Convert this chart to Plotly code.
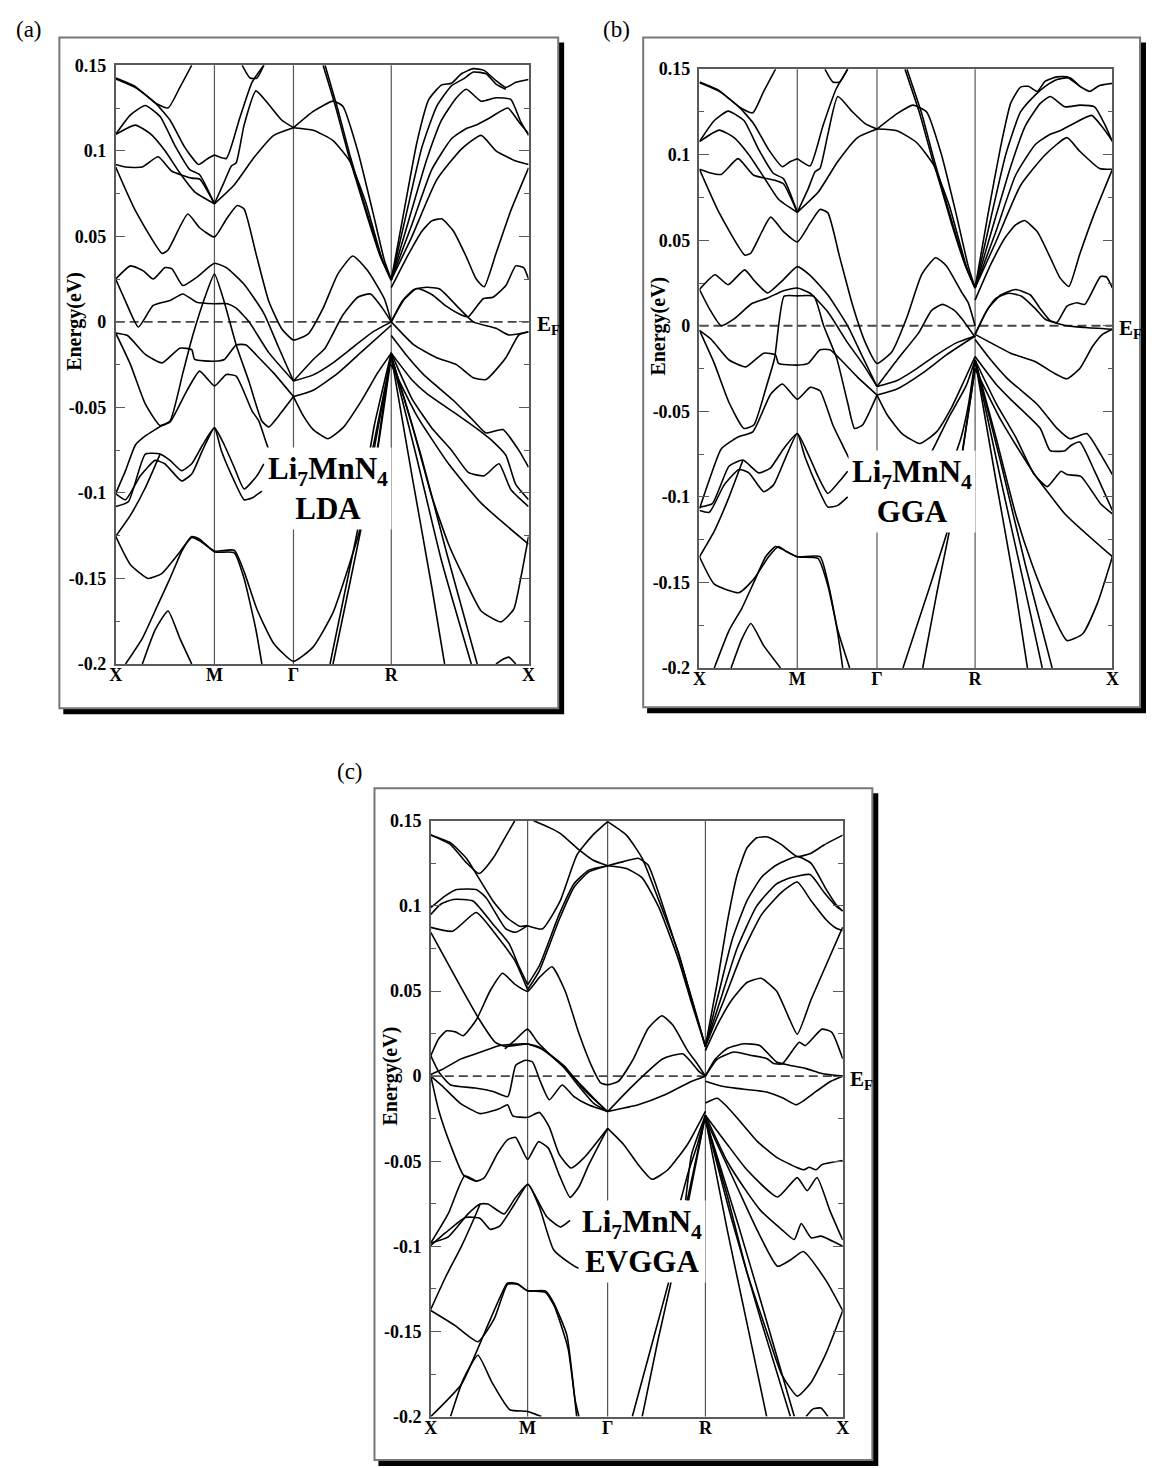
import plotly.graph_objects as go

W, H = 1152, 1468

# ---------------- data ----------------
K_LABELS = ["X", "M", "Γ", "R", "X"]
KPATH_LDA = [0.0, 1.0, 1.8, 2.79, 4.18]
KPATH_GGA = [0.0, 0.99, 1.797, 2.79, 4.18]
KPATH_EVGGA = [0.0, 0.98, 1.79, 2.78, 4.17]
E_TICKS = [-0.2, -0.15, -0.1, -0.05, 0, 0.05, 0.1, 0.15]
E_TICK_TEXT = ["-0.2", "-0.15", "-0.1", "-0.05", "0", "0.05", "0.1", "0.15"]
E_RANGE = [-0.2, 0.15]

# ---- (a) LDA : each band is a list of (k, E[eV]) points
LDA_UPPER = [
    [(0, 0.142), (0.2, 0.137), (0.4, 0.128), (0.55, 0.118), (0.7, 0.102), (0.84, 0.092), (0.92, 0.095), (1.0, 0.0975)],
    [(0, 0.1425), (0.2, 0.1375), (0.4, 0.128), (0.53, 0.125), (0.65, 0.137), (0.77, 0.15)],
    [(0, 0.1096), (0.15, 0.121), (0.3, 0.1265), (0.45, 0.12), (0.6, 0.103), (0.75, 0.089), (0.85, 0.086), (1.0, 0.069)],
    [(0, 0.1096), (0.2, 0.115), (0.35, 0.11), (0.5, 0.1), (0.65, 0.087), (0.8, 0.076), (1.0, 0.069)],
    [(0, 0.092), (0.1, 0.0905), (0.27, 0.0905), (0.43, 0.0965), (0.57, 0.088), (0.77, 0.084), (0.85, 0.0835), (1.0, 0.069)],
    [(1.0, 0.0975), (1.12, 0.0955), (1.25, 0.118), (1.38, 0.14), (1.5, 0.15)],
    [(1.28, 0.15), (1.36, 0.1425), (1.43, 0.1425), (1.5, 0.15)],
    [(1.0, 0.069), (1.1, 0.082), (1.17, 0.091), (1.22, 0.093), (1.3, 0.115), (1.42, 0.135), (1.55, 0.127), (1.68, 0.118), (1.8, 0.1135)],
    [(1.0, 0.069), (1.2, 0.08), (1.4, 0.096), (1.6, 0.109), (1.8, 0.1135)],
    [(1.8, 0.1135), (2.0, 0.123), (2.2, 0.129), (2.3, 0.126), (2.45, 0.1), (2.6, 0.065), (2.72, 0.036), (2.79, 0.0246)],
    [(1.8, 0.1135), (2.0, 0.112), (2.2, 0.106), (2.37, 0.094), (2.53, 0.07), (2.7, 0.036), (2.79, 0.0246)],
    [(2.12, 0.15), (2.25, 0.124), (2.37, 0.0977), (2.47, 0.078), (2.57, 0.059), (2.7, 0.036), (2.79, 0.024)],
    [(2.1, 0.15), (2.23, 0.125), (2.35, 0.099), (2.45, 0.08), (2.55, 0.061), (2.68, 0.038), (2.79, 0.0246)],
    [(2.79, 0.0246), (2.92, 0.065), (3.05, 0.105), (3.17, 0.13), (3.3, 0.1385), (3.4, 0.1395), (3.5, 0.145), (3.62, 0.148), (3.73, 0.147), (3.85, 0.141), (3.95, 0.137), (4.05, 0.14), (4.18, 0.1417)],
    [(2.79, 0.0246), (2.95, 0.065), (3.1, 0.102), (3.25, 0.126), (3.4, 0.138), (3.52, 0.142), (3.62, 0.146), (3.75, 0.145), (3.85, 0.139), (3.95, 0.136)],
    [(2.79, 0.0246), (2.97, 0.06), (3.15, 0.095), (3.3, 0.118), (3.45, 0.131), (3.55, 0.136), (3.7, 0.129), (3.85, 0.131), (4.0, 0.13), (4.1, 0.117), (4.18, 0.109)],
    [(2.79, 0.0246), (3.0, 0.057), (3.2, 0.089), (3.4, 0.107), (3.55, 0.113), (3.65, 0.115), (3.78, 0.119), (3.97, 0.125), (4.08, 0.117), (4.18, 0.11)],
    [(2.79, 0.0246), (3.0, 0.05), (3.25, 0.083), (3.5, 0.101), (3.7, 0.109), (3.85, 0.1), (4.05, 0.094), (4.18, 0.092)],
    [(2.79, 0.02), (2.95, 0.038), (3.1, 0.053), (3.2, 0.059), (3.3, 0.0602), (3.42, 0.053), (3.55, 0.038), (3.65, 0.025), (3.73, 0.0205), (3.85, 0.04), (4.0, 0.065), (4.18, 0.09)],
]
LDA_MIDDLE = [
    [(0, 0.025), (0.15, 0.0327), (0.28, 0.0298), (0.38, 0.025), (0.5, 0.0317), (0.57, 0.031), (0.68, 0.0212), (0.82, 0.026), (1.0, 0.0342), (1.12, 0.0317), (1.3, 0.022), (1.5, 0.005), (1.65, -0.015), (1.8, -0.0346)],
    [(0, 0.025), (0.1, 0.012), (0.23, -0.003), (0.38, 0.0096), (0.55, 0.0125), (0.68, 0.0163), (0.82, 0.0115), (1.0, 0.0106), (1.13, 0.0106), (1.22, 0.008), (1.35, 0.0), (1.55, -0.018), (1.8, -0.0346)],
    [(0, 0.0905), (0.2, 0.065), (0.47, 0.04), (0.53, 0.042), (0.73, 0.063), (0.85, 0.055), (1.0, 0.0496), (1.12, 0.06), (1.23, 0.068), (1.3, 0.066), (1.42, 0.04), (1.55, 0.012), (1.68, -0.004), (1.8, -0.0106), (1.95, -0.007), (2.1, 0.008), (2.25, 0.028), (2.4, 0.0385), (2.55, 0.03), (2.72, 0.0135), (2.79, 0.0)],
    [(0, -0.0065), (0.15, -0.025), (0.3, -0.048), (0.45, -0.0606), (0.55, -0.058), (0.68, -0.03), (0.78, -0.008), (0.92, 0.017), (1.0, 0.028), (1.1, 0.0115), (1.22, -0.0135), (1.35, -0.035), (1.48, -0.058), (1.55, -0.0615), (1.65, -0.055), (1.8, -0.0437)],
    [(0, -0.0065), (0.12, -0.008), (0.3, -0.019), (0.47, -0.024), (0.65, -0.0154), (0.77, -0.0163), (0.8, -0.022), (1.0, -0.023), (1.1, -0.022), (1.22, -0.0135), (1.32, -0.0135), (1.45, -0.021), (1.6, -0.03), (1.8, -0.0437)],
    [(1.8, -0.0346), (2.0, -0.022), (2.12, -0.0154), (2.3, 0.004), (2.45, 0.0144), (2.58, 0.0163), (2.7, 0.008), (2.79, 0.0)],
    [(1.8, -0.0346), (2.0, -0.031), (2.2, -0.024), (2.4, -0.015), (2.6, -0.006), (2.79, 0.0)],
    [(1.8, -0.0437), (2.0, -0.04), (2.25, -0.03), (2.5, -0.017), (2.79, -0.002)],
    [(1.8, -0.0437), (1.9, -0.055), (2.0, -0.063), (2.15, -0.0683), (2.3, -0.062), (2.5, -0.045), (2.65, -0.03), (2.79, -0.0183)],
    [(2.79, 0.0), (2.9, 0.012), (3.02, 0.019), (3.15, 0.0202), (3.28, 0.0192), (3.48, 0.0077), (3.62, 0.0), (3.85, -0.0038), (3.98, -0.0077), (4.18, -0.0058)],
    [(2.79, 0.0), (2.92, 0.013), (3.05, 0.0195), (3.2, 0.016), (3.35, 0.009), (3.5, 0.004), (3.57, 0.003), (3.72, 0.0135), (3.82, 0.0144), (3.95, 0.0212), (4.05, 0.0327), (4.13, 0.0317), (4.18, 0.025)],
    [(2.79, 0.0), (3.02, -0.0135), (3.25, -0.021), (3.45, -0.025), (3.62, -0.0327), (3.75, -0.0337), (3.95, -0.021), (4.08, -0.0077), (4.18, -0.0058)],
]
LDA_LOWER = [
    [(0, -0.1004), (0.1, -0.087), (0.2, -0.072), (0.3, -0.0667), (0.4, -0.063), (0.47, -0.0606), (0.55, -0.0587), (0.72, -0.0404), (0.85, -0.0288), (1.0, -0.0375), (1.12, -0.0308), (1.22, -0.0317), (1.38, -0.052), (1.45, -0.058), (1.52, -0.07), (1.58, -0.08)],
    [(0, -0.108), (0.13, -0.105), (0.3, -0.0773), (0.45, -0.0773), (0.55, -0.081), (0.667, -0.087), (0.77, -0.083), (0.88, -0.072), (1.0, -0.062), (1.1, -0.072), (1.2, -0.085), (1.3, -0.0977), (1.43, -0.09), (1.5, -0.083)],
    [(0, -0.1004), (0.1, -0.104), (0.25, -0.09), (0.4, -0.081), (0.5, -0.0831), (0.667, -0.093), (0.77, -0.089), (0.88, -0.075), (1.0, -0.062), (1.07, -0.0754), (1.2, -0.093), (1.3, -0.104), (1.38, -0.103), (1.48, -0.099)],
    [(0, -0.1254), (0.15, -0.142), (0.33, -0.15), (0.47, -0.147), (0.63, -0.136), (0.77, -0.126), (0.85, -0.128), (1.0, -0.134), (1.2, -0.1335), (1.3, -0.146), (1.43, -0.168), (1.6, -0.188), (1.8, -0.1985), (2.0, -0.19), (2.2, -0.17), (2.37, -0.141), (2.5, -0.116), (2.65, -0.075), (2.79, -0.02)],
    [(0.1, -0.2), (0.27, -0.185), (0.43, -0.165), (0.55, -0.15), (0.67, -0.134), (0.77, -0.1255), (0.85, -0.127), (1.0, -0.1345), (1.2, -0.135), (1.3, -0.15), (1.42, -0.18), (1.48, -0.2)],
    [(0.27, -0.2), (0.4, -0.18), (0.53, -0.169), (0.65, -0.185), (0.77, -0.2)],
    [(0, -0.1254), (0.15, -0.113), (0.3, -0.097), (0.45, -0.0773)],
    [(2.17, -0.2), (2.47, -0.116), (2.6, -0.075), (2.79, -0.02)],
    [(2.2, -0.2), (2.5, -0.116), (2.63, -0.07), (2.79, -0.02)],
    [(2.79, -0.018), (2.7, -0.04), (2.62, -0.06), (2.56, -0.08)],
    [(2.79, -0.018), (2.72, -0.045), (2.66, -0.07), (2.62, -0.085)],
    [(2.79, -0.008), (2.95, -0.02), (3.12, -0.031), (3.42, -0.046), (3.62, -0.0577), (3.75, -0.065), (3.92, -0.063), (4.08, -0.075), (4.18, -0.085)],
    [(2.79, -0.0183), (3.0, -0.034), (3.15, -0.042), (3.45, -0.054), (3.68, -0.0635), (3.82, -0.07), (3.95, -0.078), (4.05, -0.095), (4.18, -0.104)],
    [(2.79, -0.0183), (3.0, -0.045), (3.2, -0.062), (3.4, -0.075), (3.57, -0.088), (3.73, -0.09), (3.88, -0.083), (4.0, -0.098), (4.18, -0.108)],
    [(2.79, -0.025), (3.05, -0.055), (3.37, -0.083), (3.7, -0.106), (4.18, -0.13)],
    [(2.79, -0.02), (3.0, -0.06), (3.2, -0.102), (3.37, -0.13), (3.53, -0.15), (3.7, -0.169), (3.9, -0.1754), (4.03, -0.168), (4.1, -0.15), (4.18, -0.1254)],
    [(2.79, -0.02), (3.0, -0.09), (3.2, -0.155), (3.33, -0.2)],
    [(2.79, -0.02), (3.05, -0.08), (3.3, -0.14), (3.6, -0.2)],
    [(2.79, -0.02), (3.1, -0.08), (3.35, -0.135), (3.66, -0.2)],
    [(3.85, -0.2), (3.93, -0.197), (3.98, -0.196), (4.05, -0.2)],
]

# ---- (b) GGA
GGA_UPPER = [
    [(0, 0.142), (0.2, 0.137), (0.4, 0.128), (0.55, 0.118), (0.7, 0.103), (0.84, 0.093), (0.92, 0.096), (0.99, 0.0977)],
    [(0, 0.1425), (0.2, 0.1375), (0.4, 0.128), (0.54, 0.1245), (0.65, 0.137), (0.77, 0.15)],
    [(0, 0.1077), (0.15, 0.12), (0.29, 0.1255), (0.45, 0.12), (0.6, 0.103), (0.75, 0.089), (0.85, 0.086), (0.99, 0.0663)],
    [(0, 0.1077), (0.2, 0.1144), (0.35, 0.11), (0.5, 0.1), (0.65, 0.087), (0.8, 0.074), (0.99, 0.0663)],
    [(0, 0.0915), (0.1, 0.0895), (0.22, 0.0885), (0.39, 0.0977), (0.55, 0.088), (0.77, 0.085), (0.85, 0.083), (0.99, 0.0663)],
    [(0.99, 0.0977), (1.12, 0.0935), (1.25, 0.117), (1.38, 0.138), (1.5, 0.15)],
    [(1.27, 0.15), (1.35, 0.1425), (1.42, 0.1425), (1.5, 0.15)],
    [(0.99, 0.0663), (1.1, 0.08), (1.17, 0.09), (1.22, 0.092), (1.3, 0.112), (1.4, 0.134), (1.55, 0.125), (1.68, 0.118), (1.797, 0.115)],
    [(0.99, 0.0663), (1.2, 0.078), (1.4, 0.096), (1.6, 0.11), (1.797, 0.115)],
    [(1.797, 0.115), (2.0, 0.124), (2.16, 0.129), (2.3, 0.125), (2.45, 0.1), (2.6, 0.065), (2.72, 0.035), (2.79, 0.0221)],
    [(1.797, 0.115), (2.0, 0.114), (2.2, 0.107), (2.37, 0.094), (2.53, 0.07), (2.7, 0.035), (2.79, 0.0221)],
    [(2.1, 0.15), (2.25, 0.124), (2.37, 0.098), (2.47, 0.078), (2.57, 0.058), (2.7, 0.034), (2.79, 0.022)],
    [(2.08, 0.15), (2.23, 0.124), (2.35, 0.099), (2.45, 0.08), (2.55, 0.06), (2.68, 0.037), (2.79, 0.0221)],
    [(2.79, 0.0221), (2.92, 0.065), (3.05, 0.105), (3.15, 0.13), (3.25, 0.1395), (3.33, 0.14), (3.42, 0.137), (3.5, 0.143), (3.62, 0.1455), (3.72, 0.1455), (3.85, 0.14), (3.95, 0.137), (4.05, 0.1405), (4.18, 0.1417)],
    [(2.79, 0.0221), (2.95, 0.063), (3.1, 0.1), (3.25, 0.125), (3.4, 0.135), (3.5, 0.14), (3.62, 0.144), (3.75, 0.145), (3.85, 0.14)],
    [(2.79, 0.0221), (2.97, 0.058), (3.15, 0.093), (3.3, 0.117), (3.45, 0.13), (3.55, 0.134), (3.7, 0.128), (3.85, 0.129), (4.0, 0.128), (4.1, 0.118), (4.18, 0.1077)],
    [(2.79, 0.0221), (3.0, 0.055), (3.2, 0.088), (3.4, 0.106), (3.55, 0.112), (3.65, 0.114), (3.78, 0.118), (3.97, 0.123), (4.08, 0.116), (4.18, 0.108)],
    [(2.79, 0.0221), (3.0, 0.049), (3.25, 0.082), (3.5, 0.1), (3.72, 0.11), (3.85, 0.102), (4.05, 0.092), (4.18, 0.0915)],
    [(2.79, 0.015), (2.95, 0.036), (3.1, 0.052), (3.2, 0.059), (3.29, 0.0615), (3.42, 0.055), (3.55, 0.04), (3.65, 0.028), (3.74, 0.023), (3.85, 0.042), (4.0, 0.066), (4.18, 0.0915)],
]
GGA_MIDDLE = [
    [(0, 0.0212), (0.157, 0.0298), (0.29, 0.024), (0.457, 0.0327), (0.56, 0.026), (0.69, 0.0192), (0.85, 0.027), (0.99, 0.0346), (1.12, 0.0295), (1.3, 0.018), (1.5, 0.0), (1.65, -0.018), (1.797, -0.0355)],
    [(0, 0.0212), (0.1, 0.01), (0.22, 0.0), (0.35, 0.004), (0.53, 0.013), (0.69, 0.0163), (0.85, 0.0205), (0.99, 0.0221), (1.12, 0.019), (1.3, 0.008), (1.5, -0.01), (1.65, -0.022), (1.797, -0.0355)],
    [(0, 0.0915), (0.2, 0.066), (0.46, 0.0413), (0.52, 0.0425), (0.72, 0.0635), (0.85, 0.055), (0.99, 0.049), (1.12, 0.06), (1.22, 0.068), (1.3, 0.066), (1.42, 0.04), (1.55, 0.012), (1.68, -0.01), (1.797, -0.022), (1.95, -0.015), (2.1, 0.005), (2.25, 0.03), (2.39, 0.0398), (2.5, 0.035), (2.65, 0.02), (2.72, 0.0135), (2.79, 0.0)],
    [(0, -0.0027), (0.15, -0.022), (0.3, -0.045), (0.45, -0.06), (0.55, -0.058), (0.68, -0.035), (0.76, -0.019), (0.857, 0.0173), (0.99, 0.0175), (1.157, 0.0173), (1.257, 0.0), (1.39, -0.0192), (1.5, -0.045), (1.57, -0.06), (1.65, -0.058), (1.797, -0.0405)],
    [(0, -0.0027), (0.12, -0.008), (0.3, -0.02), (0.47, -0.024), (0.65, -0.016), (0.77, -0.017), (0.8, -0.022), (0.99, -0.023), (1.1, -0.022), (1.22, -0.014), (1.32, -0.014), (1.45, -0.021), (1.6, -0.03), (1.797, -0.0405)],
    [(1.797, -0.0355), (2.0, -0.02), (2.22, -0.004), (2.35, 0.009), (2.46, 0.0125), (2.58, 0.009), (2.66, 0.0038), (2.79, -0.0067)],
    [(1.797, -0.0355), (2.0, -0.032), (2.2, -0.025), (2.4, -0.017), (2.6, -0.01), (2.79, -0.006)],
    [(1.797, -0.0405), (2.0, -0.037), (2.25, -0.028), (2.5, -0.017), (2.79, -0.006)],
    [(1.797, -0.0405), (1.9, -0.052), (2.05, -0.063), (2.23, -0.0688), (2.4, -0.062), (2.55, -0.048), (2.68, -0.032), (2.79, -0.018)],
    [(2.79, -0.005), (2.9, 0.008), (3.0, 0.016), (3.13, 0.019), (3.26, 0.0173), (3.4, 0.01), (3.5, 0.0038), (3.72, 0.0), (3.9, -0.001), (4.18, -0.002)],
    [(2.79, -0.005), (2.92, 0.01), (3.05, 0.018), (3.2, 0.0212), (3.35, 0.018), (3.45, 0.01), (3.55, 0.003), (3.62, 0.002), (3.72, 0.0115), (3.82, 0.0135), (3.9, 0.0125), (4.06, 0.0288), (4.12, 0.0285), (4.18, 0.0221)],
    [(2.79, -0.005), (2.95, -0.01), (3.15, -0.016), (3.4, -0.021), (3.6, -0.028), (3.72, -0.031), (3.85, -0.025), (3.98, -0.012), (4.08, -0.005), (4.18, -0.002)],
]
GGA_LOWER = [
    [(0, -0.107), (0.1, -0.09), (0.22, -0.072), (0.39, -0.065), (0.54, -0.062), (0.72, -0.04), (0.84, -0.034), (0.99, -0.043), (1.12, -0.036), (1.22, -0.038), (1.35, -0.058), (1.45, -0.07), (1.52, -0.078), (1.56, -0.082)],
    [(0, -0.106), (0.13, -0.104), (0.3, -0.082), (0.44, -0.0785), (0.6, -0.086), (0.72, -0.083), (0.85, -0.072), (0.99, -0.063), (1.1, -0.075), (1.2, -0.088), (1.3, -0.098), (1.43, -0.09), (1.5, -0.085)],
    [(0, -0.108), (0.1, -0.109), (0.25, -0.093), (0.4, -0.084), (0.5, -0.086), (0.65, -0.097), (0.75, -0.093), (0.88, -0.076), (0.99, -0.063), (1.07, -0.077), (1.2, -0.095), (1.3, -0.106), (1.4, -0.105), (1.5, -0.1)],
    [(0, -0.135), (0.15, -0.151), (0.4, -0.156), (0.55, -0.148), (0.7, -0.135), (0.8, -0.129), (0.88, -0.132), (0.99, -0.135), (1.22, -0.135), (1.3, -0.15), (1.4, -0.18), (1.45, -0.2)],
    [(0.15, -0.2), (0.3, -0.178), (0.43, -0.165), (0.55, -0.15), (0.67, -0.135), (0.77, -0.129), (0.85, -0.131), (0.99, -0.135), (1.2, -0.136), (1.3, -0.152), (1.4, -0.178), (1.52, -0.2)],
    [(0.32, -0.2), (0.43, -0.183), (0.52, -0.174), (0.65, -0.187), (0.82, -0.2)],
    [(0, -0.135), (0.15, -0.12), (0.3, -0.1), (0.44, -0.0785)],
    [(2.06, -0.2), (2.3, -0.158), (2.54, -0.114), (2.66, -0.075), (2.79, -0.025)],
    [(2.26, -0.2), (2.4, -0.157), (2.55, -0.114), (2.67, -0.07), (2.79, -0.025)],
    [(2.79, -0.02), (2.72, -0.047), (2.65, -0.065), (2.59, -0.0755)],
    [(2.79, -0.02), (2.7, -0.035), (2.52, -0.054), (2.4, -0.068), (2.33, -0.076)],
    [(2.79, -0.008), (2.95, -0.02), (3.12, -0.031), (3.42, -0.046), (3.62, -0.06), (3.75, -0.066), (3.92, -0.063), (4.06, -0.075), (4.18, -0.087)],
    [(2.79, -0.018), (3.0, -0.034), (3.15, -0.043), (3.45, -0.06), (3.55, -0.073), (3.7, -0.073), (3.76, -0.07), (3.85, -0.068), (4.0, -0.085), (4.18, -0.108)],
    [(2.79, -0.02), (3.0, -0.045), (3.2, -0.065), (3.39, -0.087), (3.52, -0.094), (3.66, -0.085), (3.72, -0.087), (3.86, -0.088), (4.06, -0.104), (4.18, -0.11)],
    [(2.79, -0.025), (3.05, -0.055), (3.37, -0.085), (3.7, -0.11), (4.18, -0.135)],
    [(2.79, -0.02), (3.0, -0.065), (3.2, -0.11), (3.37, -0.14), (3.53, -0.163), (3.72, -0.184), (3.88, -0.18), (4.03, -0.162), (4.18, -0.135)],
    [(2.79, -0.02), (3.0, -0.09), (3.2, -0.155), (3.32, -0.2)],
    [(2.79, -0.02), (3.05, -0.08), (3.3, -0.14), (3.57, -0.2)],
    [(2.79, -0.02), (3.05, -0.09), (3.3, -0.155), (3.47, -0.2)],
]

# ---- (c) EVGGA
EVGGA_UPPER = [
    [(0, 0.1416), (0.2, 0.136), (0.35, 0.126), (0.49, 0.119), (0.63, 0.128), (0.75, 0.14), (0.85, 0.15)],
    [(0, 0.1416), (0.2, 0.137), (0.36, 0.128), (0.5, 0.115), (0.63, 0.1029), (0.77, 0.0932), (0.9, 0.088), (0.98, 0.0884)],
    [(1.04, 0.15), (1.2, 0.146), (1.31, 0.1426), (1.48, 0.134), (1.64, 0.127), (1.79, 0.1236)],
    [(0.98, 0.0884), (1.13, 0.0865), (1.31, 0.103), (1.48, 0.13), (1.64, 0.1416), (1.79, 0.1495)],
    [(0.98, 0.0537), (1.1, 0.065), (1.3, 0.095), (1.45, 0.113), (1.6, 0.121), (1.79, 0.1236)],
    [(0.98, 0.0508), (1.1, 0.062), (1.3, 0.092), (1.45, 0.111), (1.6, 0.12), (1.79, 0.1236)],
    [(0, 0.095), (0.1, 0.101), (0.227, 0.1038), (0.427, 0.1029), (0.627, 0.0894), (0.793, 0.0778), (0.893, 0.0643), (0.98, 0.0537)],
    [(0, 0.099), (0.15, 0.106), (0.26, 0.1096), (0.46, 0.1096), (0.56, 0.1048), (0.76, 0.0865), (0.86, 0.0845), (0.98, 0.0884)],
    [(0, 0.0874), (0.22, 0.0851), (0.46, 0.0961), (0.63, 0.0853), (0.85, 0.068), (0.98, 0.0508)],
    [(1.79, 0.1495), (1.98, 0.1416), (2.14, 0.128), (2.31, 0.103), (2.51, 0.072), (2.64, 0.045), (2.78, 0.0174)],
    [(1.79, 0.1236), (1.98, 0.122), (2.14, 0.1165), (2.31, 0.099), (2.51, 0.068), (2.64, 0.043), (2.78, 0.0174)],
    [(1.79, 0.1236), (1.95, 0.126), (2.1, 0.128), (2.2, 0.124), (2.35, 0.1), (2.5, 0.073), (2.65, 0.044), (2.78, 0.0174)],
    [(2.78, 0.0174), (2.9, 0.055), (3.0, 0.09), (3.1, 0.118), (3.2, 0.134), (3.3, 0.14), (3.41, 0.1405), (3.55, 0.136), (3.71, 0.129), (3.85, 0.131), (3.98, 0.1358), (4.17, 0.1416)],
    [(2.78, 0.0174), (2.92, 0.05), (3.05, 0.08), (3.2, 0.103), (3.35, 0.117), (3.5, 0.124), (3.71, 0.129), (3.85, 0.125), (4.0, 0.11), (4.1, 0.101), (4.17, 0.097)],
    [(2.78, 0.0174), (2.95, 0.048), (3.1, 0.075), (3.3, 0.1), (3.5, 0.113), (3.64, 0.1165), (3.84, 0.1184), (3.98, 0.108), (4.1, 0.1), (4.17, 0.097)],
    [(2.78, 0.0174), (2.97, 0.045), (3.15, 0.072), (3.35, 0.095), (3.55, 0.108), (3.71, 0.114), (3.85, 0.103), (4.0, 0.092), (4.1, 0.087), (4.17, 0.0855)],
    [(2.78, 0.015), (2.9, 0.03), (3.05, 0.045), (3.2, 0.055), (3.343, 0.0575), (3.5, 0.05), (3.62, 0.035), (3.71, 0.0246), (3.85, 0.045), (4.0, 0.065), (4.17, 0.0875)],
]
EVGGA_MIDDLE = [
    [(0, 0.0845), (0.25, 0.058), (0.49, 0.0334), (0.65, 0.02), (0.75, 0.0175), (0.98, 0.0189), (1.1, 0.017), (1.3, 0.008), (1.5, -0.004), (1.65, -0.013), (1.79, -0.0209)],
    [(0, 0.012), (0.08, 0.022), (0.16, 0.0266), (0.25, 0.026), (0.327, 0.0237), (0.46, 0.033), (0.6, 0.05), (0.727, 0.0604), (0.85, 0.054), (0.98, 0.0498), (1.1, 0.058), (1.227, 0.0643), (1.36, 0.05), (1.5, 0.025), (1.627, 0.006), (1.72, -0.004), (1.79, -0.005), (1.9, -0.003), (2.05, 0.01), (2.2, 0.028), (2.34, 0.0355), (2.45, 0.03), (2.6, 0.015), (2.7, 0.007), (2.78, 0.0)],
    [(0, 0.001), (0.12, 0.004), (0.3, 0.01), (0.5, 0.014), (0.7, 0.018), (0.98, 0.0189), (1.15, 0.015), (1.35, 0.006), (1.55, -0.008), (1.79, -0.0209)],
    [(0.75, 0.016), (0.85, 0.021), (0.98, 0.0276), (1.08, 0.02), (1.2, 0.013), (1.35, 0.005), (1.5, -0.006), (1.65, -0.016), (1.79, -0.0209)],
    [(0, 0.012), (0.08, 0.0025), (0.2, -0.0052), (0.45, -0.007), (0.63, -0.009), (0.78, -0.012), (0.86, 0.0064), (0.96, 0.0093), (1.03, 0.0083), (1.11, -0.0033), (1.2, -0.0139), (1.33, -0.0052), (1.45, -0.012), (1.6, -0.017), (1.79, -0.0207)],
    [(0, 0.0), (0.08, -0.02), (0.2, -0.0405), (0.33, -0.058), (0.46, -0.0617), (0.54, -0.0598), (0.68, -0.045), (0.777, -0.0374), (0.86, -0.036), (0.98, -0.049), (1.09, -0.0385), (1.19, -0.0423), (1.3, -0.058), (1.41, -0.0712), (1.5, -0.065), (1.6, -0.052), (1.79, -0.0307)],
    [(0, 0.0), (0.12, -0.006), (0.3, -0.016), (0.5, -0.022), (0.7, -0.019), (0.777, -0.0168), (0.83, -0.0233), (0.98, -0.0242), (1.1, -0.0213), (1.2, -0.03), (1.3, -0.046), (1.42, -0.054), (1.55, -0.048), (1.79, -0.0307)],
    [(1.79, -0.0209), (2.02, -0.007), (2.35, 0.0102), (2.55, 0.0131), (2.72, 0.0025), (2.78, 0.0)],
    [(1.79, -0.0207), (2.1, -0.0168), (2.37, -0.011), (2.63, -0.0033), (2.78, 0.0)],
    [(1.79, -0.0307), (1.95, -0.04), (2.1, -0.052), (2.24, -0.0606), (2.4, -0.055), (2.6, -0.04), (2.78, -0.0207)],
    [(2.78, 0.0), (2.88, 0.01), (3.0, 0.0162), (3.17, 0.019), (3.33, 0.018), (3.5, 0.0083), (3.63, 0.0064), (3.8, 0.0044), (3.96, 0.0015), (4.17, 0.0)],
    [(2.78, 0.0), (2.9, 0.01), (3.07, 0.0142), (3.23, 0.0123), (3.4, 0.0104), (3.47, 0.0074), (3.56, 0.0073), (3.73, 0.0199), (3.79, 0.0179), (3.96, 0.0276), (4.06, 0.0257), (4.17, 0.0102)],
    [(2.78, -0.003), (2.95, -0.006), (3.1, -0.0072), (3.4, -0.0093), (3.57, -0.013), (3.7, -0.0168), (3.9, -0.009), (4.05, -0.003), (4.17, 0.0)],
]
EVGGA_LOWER = [
    [(0, -0.098), (0.177, -0.0808), (0.343, -0.0587), (0.46, -0.0617)],
    [(0, -0.098), (0.177, -0.0944), (0.377, -0.0809), (0.5, -0.0751), (0.577, -0.0751), (0.743, -0.081), (0.85, -0.072), (0.983, -0.0635), (1.1, -0.075), (1.177, -0.0828), (1.31, -0.0886), (1.41, -0.0847)],
    [(0, -0.0995), (0.15, -0.092), (0.35, -0.083), (0.5, -0.0836), (0.6, -0.09), (0.7, -0.088), (0.85, -0.075), (0.983, -0.0635), (1.1, -0.077), (1.243, -0.102), (1.41, -0.11), (1.5, -0.113), (1.6, -0.115)],
    [(0, -0.1377), (0.243, -0.1464), (0.477, -0.156), (0.643, -0.1425), (0.777, -0.1223), (0.877, -0.1223), (0.98, -0.1262), (1.16, -0.1262), (1.243, -0.133), (1.377, -0.152), (1.44, -0.18), (1.477, -0.2)],
    [(0, -0.2), (0.31, -0.181), (0.55, -0.15), (0.7, -0.13), (0.777, -0.1215), (0.877, -0.122), (0.98, -0.126), (1.16, -0.127), (1.25, -0.135), (1.39, -0.16), (1.46, -0.19), (1.5, -0.2)],
    [(0.2, -0.2), (0.33, -0.178), (0.477, -0.164), (0.62, -0.18), (0.8, -0.196), (0.98, -0.197), (1.12, -0.2)],
    [(0, -0.137), (0.15, -0.118), (0.31, -0.1), (0.45, -0.082), (0.5, -0.0751)],
    [(2.04, -0.2), (2.25, -0.155), (2.44, -0.114), (2.6, -0.072), (2.78, -0.023)],
    [(2.14, -0.2), (2.3, -0.155), (2.46, -0.114), (2.62, -0.07), (2.78, -0.023)],
    [(2.78, -0.023), (2.7, -0.04), (2.61, -0.0558), (2.53, -0.073)],
    [(2.78, -0.023), (2.64, -0.046), (2.58, -0.073)],
    [(2.78, -0.0158), (2.9, -0.013), (3.0, -0.018), (3.1, -0.0245), (3.3, -0.038), (3.5, -0.0477), (3.7, -0.0535), (3.78, -0.055), (3.83, -0.0535), (3.9, -0.055), (3.96, -0.052), (4.17, -0.0496)],
    [(2.78, -0.023), (3.0, -0.04), (3.2, -0.055), (3.51, -0.071), (3.71, -0.0596), (3.81, -0.0673), (3.91, -0.0596), (4.04, -0.079), (4.17, -0.0963)],
    [(2.78, -0.023), (3.0, -0.05), (3.2, -0.068), (3.34, -0.079), (3.55, -0.09), (3.68, -0.096), (3.75, -0.0866), (3.85, -0.095), (3.95, -0.094), (4.17, -0.1)],
    [(2.78, -0.025), (3.1, -0.065), (3.3, -0.09), (3.51, -0.1117), (3.64, -0.108), (3.77, -0.103), (4.0, -0.12), (4.17, -0.1378)],
    [(2.78, -0.025), (3.0, -0.07), (3.2, -0.115), (3.4, -0.15), (3.55, -0.175), (3.71, -0.188), (3.85, -0.18), (4.0, -0.163), (4.17, -0.1378)],
    [(2.78, -0.025), (3.0, -0.09), (3.2, -0.145), (3.4, -0.2)],
    [(2.78, -0.025), (3.05, -0.085), (3.35, -0.145), (3.64, -0.2)],
    [(2.78, -0.025), (3.1, -0.085), (3.38, -0.14), (3.68, -0.2)],
    [(3.8, -0.2), (3.87, -0.1955), (3.95, -0.195), (4.02, -0.2)],
]

# ---------------- layout helpers ----------------
SERIF = "Liberation Serif, Times New Roman, serif"
AXIS_GRAY = "#5a5a5a"


def px_x(x):
    return x / W


def px_y(y):
    return 1 - y / H


PANELS = [
    dict(bands=LDA_UPPER + LDA_MIDDLE + LDA_LOWER, kpath=KPATH_LDA, method="LDA",
         plot=(110, 56, 528, 663), zero_y=316, frame=(53, 28, 558, 708), label="(a)", label_xy=(22, 20),
         ef_x=534, title_x=69, f_xy=(325, 485)),
    dict(bands=GGA_UPPER + GGA_MIDDLE + GGA_LOWER, kpath=KPATH_GGA, method="GGA",
         plot=(701, 60, 1119, 667), zero_y=320, frame=(644, 28, 1147, 707), label="(b)", label_xy=(617, 20),
         ef_x=1124, title_x=660, f_xy=(916, 488)),
    dict(bands=EVGGA_UPPER + EVGGA_MIDDLE + EVGGA_LOWER, kpath=KPATH_EVGGA, method="EVGGA",
         plot=(429, 822, 846, 1426), zero_y=1081, frame=(372, 789, 876, 1470), label="(c)", label_xy=(347, 772),
         ef_x=851, title_x=388, f_xy=(643, 1249)),
]

fig = go.Figure()
shapes = []
annotations = []
layout_axes = {}

for i, p in enumerate(PANELS):
    n = "" if i == 0 else str(i + 1)
    xa, ya = "x" + n, "y" + n
    x0, y0, x1, y1 = p["plot"]

    xs, ys = [], []
    for band in p["bands"]:
        for k, e in band:
            xs.append(k)
            ys.append(e)
        xs.append(None)
        ys.append(None)
    fig.add_trace(go.Scatter(x=xs, y=ys, mode="lines", xaxis=xa, yaxis=ya,
                             line=dict(color="black", width=1.6, shape="spline", smoothing=0.5),
                             hoverinfo="skip", showlegend=False, connectgaps=False))

    layout_axes["xaxis" + n] = dict(
        domain=[px_x(x0), px_x(x1)], range=[0, p["kpath"][-1]], anchor=ya,
        tickmode="array", tickvals=p["kpath"], ticktext=K_LABELS, ticks="",
        tickfont=dict(family=SERIF, size=18, color="black", weight="bold"),
        ticklabelstandoff=-6,
        showline=True, linecolor=AXIS_GRAY, linewidth=1.5, mirror=True,
        showgrid=False, zeroline=False, fixedrange=True)
    layout_axes["yaxis" + n] = dict(
        domain=[px_y(y1), px_y(y0)], range=E_RANGE, anchor=xa,
        tickmode="array", tickvals=E_TICKS, ticktext=E_TICK_TEXT,
        ticks="inside", ticklen=10, tickwidth=1.3, tickcolor=AXIS_GRAY,
        minor=dict(tickmode="linear", tick0=0, dtick=0.025, ticks="inside", ticklen=5,
                   tickwidth=1.3, tickcolor=AXIS_GRAY, showgrid=False),
        tickfont=dict(family=SERIF, size=18, color="black", weight="bold"),
        ticklabelstandoff=4,
        showline=True, linecolor=AXIS_GRAY, linewidth=1.5, mirror="allticks",
        showgrid=False, zeroline=False, fixedrange=True)

    # frame with shadow
    fx0, fy0, fx1, fy1 = p["frame"]
    shapes.append(dict(type="rect", xref="paper", yref="paper", layer="below",
                       x0=px_x(fx0 + 4), x1=px_x(fx1 + 6), y0=px_y(fy1 + 6), y1=px_y(fy0 + 5),
                       fillcolor="black", line=dict(width=0)))
    shapes.append(dict(type="rect", xref="paper", yref="paper", layer="below",
                       x0=px_x(fx0), x1=px_x(fx1), y0=px_y(fy1), y1=px_y(fy0),
                       fillcolor="white", line=dict(color="#777777", width=2)))

    # high-symmetry vertical lines
    for kv in p["kpath"][1:-1]:
        shapes.append(dict(type="line", xref=xa, yref=ya + " domain", layer="below",
                           x0=kv, x1=kv, y0=0, y1=1, line=dict(color="#555555", width=1.2)))
    # Fermi level
    shapes.append(dict(type="line", xref=xa + " domain", yref=ya, layer="below",
                       x0=0, x1=1, y0=0, y1=0, line=dict(color="#444444", width=1.9, dash="9px,5px")))

    # texts
    annotations.append(dict(text="<b>E<sub>F</sub></b>", xref="paper", yref=ya, x=px_x(p["ef_x"]), y=-0.002,
                            xanchor="left", yanchor="middle", showarrow=False,
                            font=dict(family=SERIF, size=21, color="black")))
    annotations.append(dict(text="<b>Energy(eV)</b>", xref="paper", yref="paper",
                            x=px_x(p["title_x"]), y=px_y(p["zero_y"]),
                            textangle=-90, showarrow=False, xanchor="center", yanchor="middle",
                            font=dict(family=SERIF, size=20, color="black")))
    annotations.append(dict(text="<b>Li<sub>7</sub>MnN<sub>4</sub><br>" + p["method"] + "</b>",
                            xref="paper", yref="paper",
                            x=px_x(p["f_xy"][0]), y=px_y(p["f_xy"][1]), showarrow=False,
                            xanchor="center", yanchor="middle", align="center",
                            bgcolor="white", borderpad=3,
                            font=dict(family=SERIF, size=31, color="black")))
    annotations.append(dict(text=p["label"], xref="paper", yref="paper",
                            x=px_x(p["label_xy"][0]), y=px_y(p["label_xy"][1]), showarrow=False,
                            xanchor="center", yanchor="middle",
                            font=dict(family=SERIF, size=23, color="black")))

fig.update_layout(width=W, height=H, margin=dict(l=0, r=0, t=0, b=0),
                  paper_bgcolor="white", plot_bgcolor="white",
                  shapes=shapes, annotations=annotations, **layout_axes)

fig.write_html("out.html", include_plotlyjs=True, config={"displayModeBar": False},
               post_script="document.body.style.margin='0px';document.body.style.padding='0px';"
                           "document.body.style.overflow='hidden';")
